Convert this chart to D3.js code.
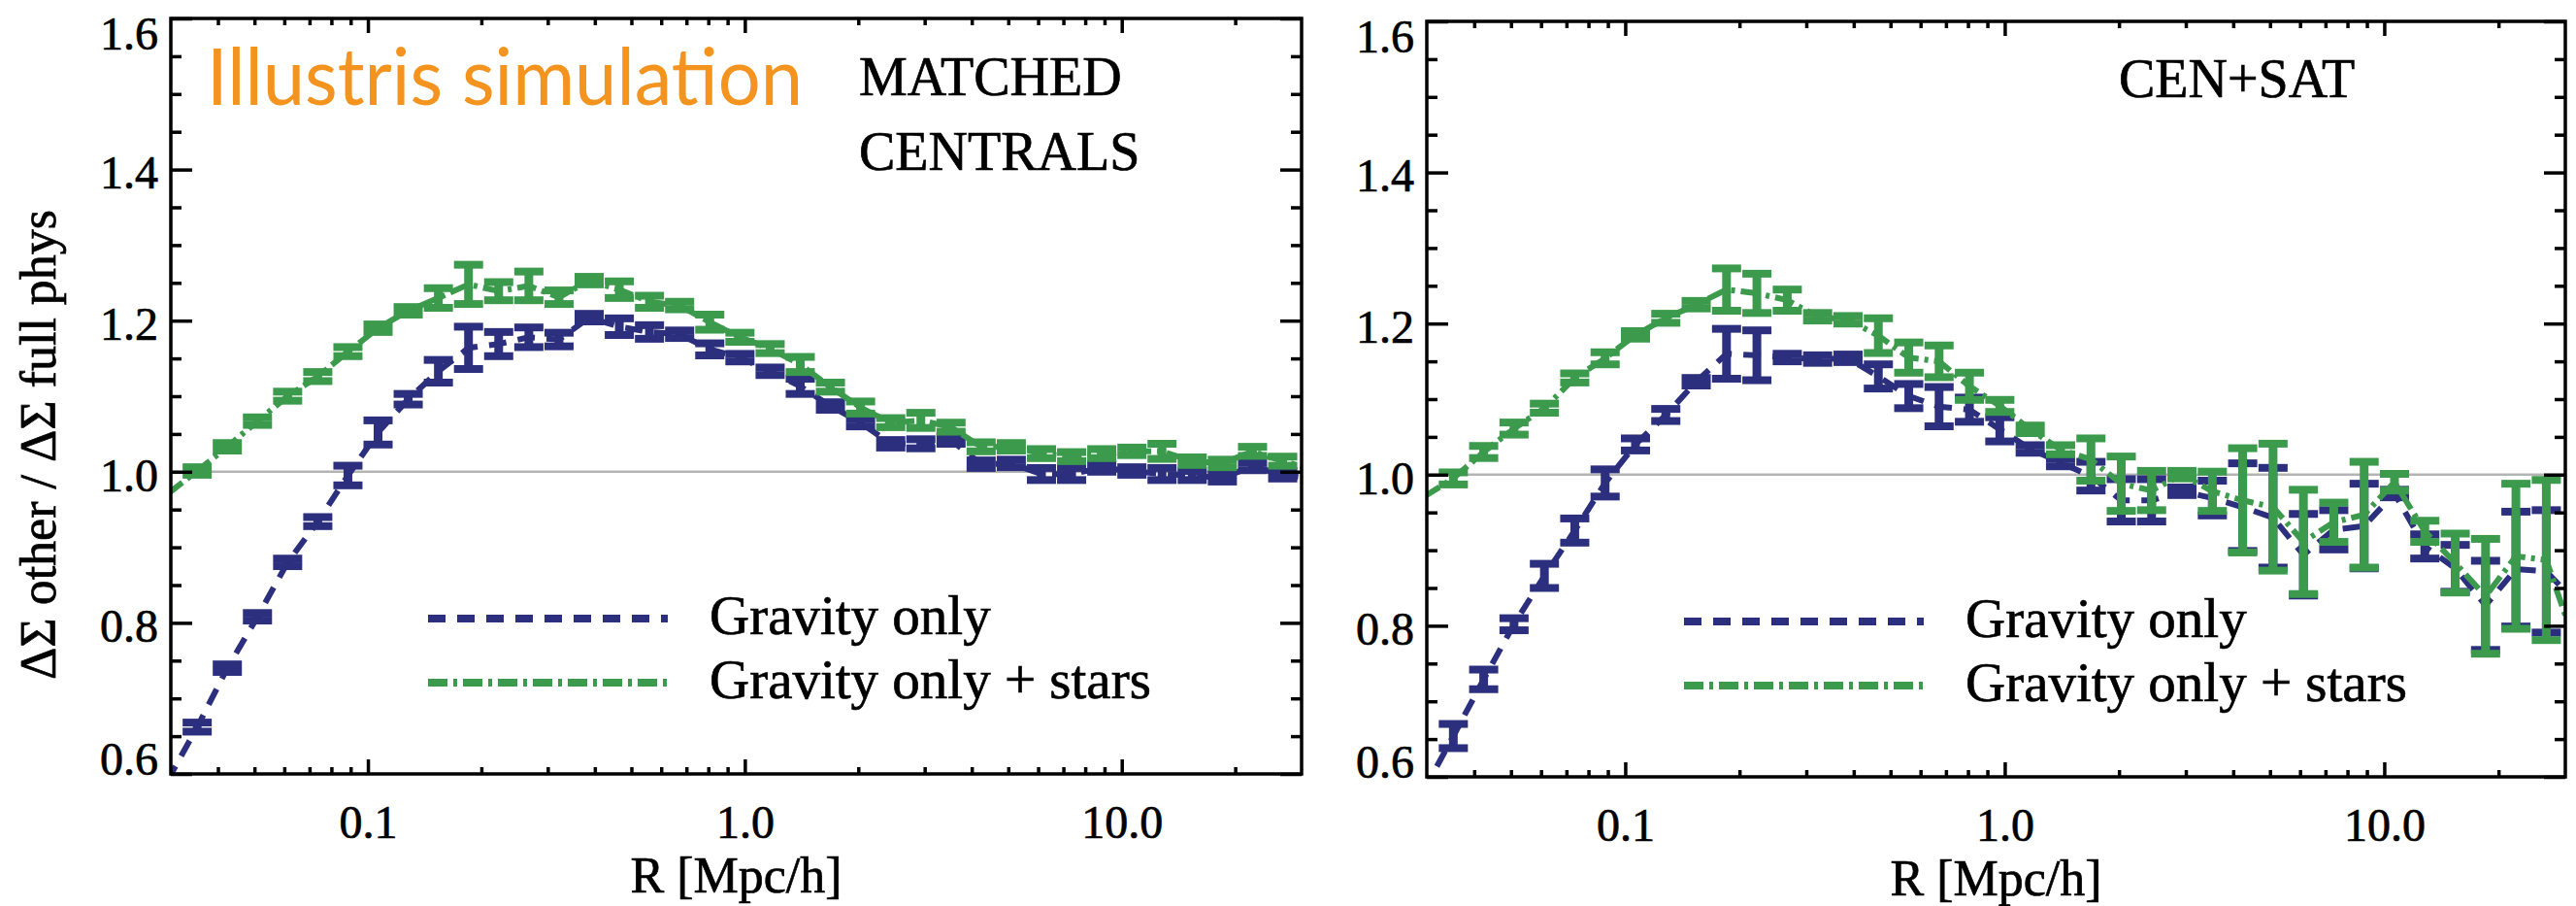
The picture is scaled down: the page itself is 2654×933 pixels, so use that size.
<!DOCTYPE html>
<html>
<head>
<meta charset="utf-8">
<script src="https://cdn.jsdelivr.net/npm/d3@7"></script>
<style>
  body { margin: 0; background: #fff; }
  svg { display: block; }
  text.serif { font-family: "Liberation Serif", "Times New Roman", serif; fill: #000; stroke: #000; stroke-width: 0.7px; }
</style>
</head>
<body>
<svg id="chart" width="2654" height="933"></svg>
<script>
// Projected radius bins [Mpc/h] (log-spaced, 0.08 dex)
const radius = [0.02931, 0.03524, 0.04236, 0.05093, 0.06124, 0.07362, 0.08851, 0.1064, 0.1279, 0.1538,
  0.1849, 0.2223, 0.2673, 0.3214, 0.3864, 0.4645, 0.5585, 0.6714, 0.8072, 0.9705,
  1.167, 1.403, 1.687, 2.028, 2.438, 2.931, 3.524, 4.236, 5.093, 6.124,
  7.362, 8.851, 10.64, 12.79, 15.38, 18.49, 22.23, 26.73, 32.14];

// MATCHED CENTRALS: gravity only
const matchedGrav = [0.59, 0.662, 0.740, 0.808, 0.880, 0.934, 0.995, 1.052, 1.096, 1.133,
  1.164, 1.169, 1.178, 1.175, 1.204, 1.192, 1.185, 1.182, 1.162, 1.151,
  1.133, 1.113, 1.087, 1.065, 1.037, 1.037, 1.042, 1.010, 1.011, 0.997,
  0.997, 1.005, 1.001, 0.997, 0.995, 0.992, 1.007, 0.996, 0.990];
const matchedGravErr = [0, 0.006, 0.005, 0.005, 0.005, 0.006, 0.013, 0.016, 0.007, 0.015,
  0.028, 0.016, 0.013, 0.009, 0.005, 0.011, 0.009, 0.005, 0.008, 0.005,
  0.005, 0.010, 0.005, 0.005, 0.005, 0.006, 0.005, 0.005, 0.005, 0.008,
  0.008, 0.005, 0.005, 0.008, 0.006, 0.005, 0.005, 0.005, 0];

// MATCHED CENTRALS: gravity only + stars
const matchedStars = [0.970, 1.001, 1.033, 1.067, 1.100, 1.126, 1.159, 1.190, 1.213, 1.230,
  1.248, 1.239, 1.246, 1.231, 1.253, 1.241, 1.225, 1.220, 1.198, 1.178,
  1.163, 1.142, 1.112, 1.085, 1.065, 1.068, 1.059, 1.033, 1.033, 1.024,
  1.020, 1.024, 1.027, 1.027, 1.014, 1.011, 1.027, 1.014, 1.003];
const matchedStarsErr = [0, 0.005, 0.005, 0.005, 0.006, 0.006, 0.006, 0.005, 0.005, 0.013,
  0.026, 0.012, 0.019, 0.009, 0.005, 0.011, 0.008, 0.005, 0.010, 0.006,
  0.006, 0.010, 0.006, 0.008, 0.006, 0.010, 0.006, 0.006, 0.005, 0.006,
  0.006, 0.006, 0.005, 0.010, 0.005, 0.005, 0.006, 0.006, 0];

// CEN+SAT: gravity only
const censatGrav = [0.58, 0.654, 0.729, 0.802, 0.866, 0.926, 0.989, 1.040, 1.079, 1.123,
  1.160, 1.158, 1.155, 1.153, 1.154, 1.130, 1.104, 1.090, 1.086, 1.060,
  1.034, 1.016, 0.998, 0.966, 0.966, 0.978, 0.969, 0.957, 0.943, 0.894,
  0.927, 0.932, 0.975, 0.905, 0.876, 0.827, 0.875, 0.872, 0.830];
const censatGravErr = [0, 0.016, 0.013, 0.008, 0.016, 0.016, 0.018, 0.008, 0.008, 0.005,
  0.033, 0.033, 0.005, 0.005, 0.005, 0.016, 0.016, 0.026, 0.016, 0.016,
  0.005, 0.005, 0.019, 0.028, 0.028, 0.005, 0.023, 0.058, 0.066, 0.054,
  0.026, 0.056, 0.005, 0.016, 0.031, 0.059, 0.076, 0.081, 0];

// CEN+SAT: gravity only + stars
const censatStars = [0.970, 0.995, 1.030, 1.061, 1.088, 1.128, 1.154, 1.185, 1.207, 1.225,
  1.245, 1.240, 1.231, 1.209, 1.205, 1.184, 1.155, 1.150, 1.117, 1.091,
  1.060, 1.033, 1.020, 0.988, 0.979, 1.000, 0.978, 0.966, 0.957, 0.911,
  0.937, 0.947, 0.990, 0.925, 0.883, 0.839, 0.892, 0.887, 0.770];
const censatStarsErr = [0, 0.008, 0.008, 0.008, 0.006, 0.006, 0.008, 0.005, 0.006, 0.005,
  0.028, 0.026, 0.014, 0.005, 0.005, 0.023, 0.020, 0.021, 0.018, 0.008,
  0.005, 0.006, 0.028, 0.036, 0.026, 0.005, 0.026, 0.069, 0.084, 0.069,
  0.026, 0.070, 0.011, 0.014, 0.039, 0.076, 0.096, 0.106, 0];

// Axis ticks and labels
const xDomain = [0.03, 30];
const yDomain = [0.6, 1.6];
const xMajorTicks = [0.1, 1, 10];
const xTickLabels = ["0.1", "1.0", "10.0"];
const xMinorTicks = [0.04, 0.05, 0.06, 0.07, 0.08, 0.09, 0.2, 0.3, 0.4, 0.5, 0.6, 0.7, 0.8, 0.9,
  2, 3, 4, 5, 6, 7, 8, 9, 20];
const yMajorTicks = [0.6, 0.8, 1.0, 1.2, 1.4, 1.6];
const yTickLabels = ["0.6", "0.8", "1.0", "1.2", "1.4", "1.6"];
const yMinorTicks = [0.65, 0.7, 0.75, 0.85, 0.9, 0.95, 1.05, 1.1, 1.15, 1.25, 1.3, 1.35, 1.45, 1.5, 1.55];
const seriesNames = ["Gravity only", "Gravity only + stars"];

const BLUE = "#2c2f7d";
const GREEN = "#3c9a4c";
const ORANGE = "#f4931e";

const svg = d3.select("#chart");
svg.append("rect").attr("width", 2654).attr("height", 933).attr("fill", "#fff");

const panels = [
  { id: "matched", left: 176, right: 1341, top: 19, bottom: 797,
    grav: matchedGrav, gravErr: matchedGravErr, stars: matchedStars, starsErr: matchedStarsErr,
    labels: ["MATCHED", "CENTRALS"], labelX: 885, labelY: [98, 175], yTitle: true },
  { id: "censat", left: 1470, right: 2643, top: 22, bottom: 800,
    grav: censatGrav, gravErr: censatGravErr, stars: censatStars, starsErr: censatStarsErr,
    labels: ["CEN+SAT"], labelX: 2183, labelY: [100], yTitle: false }
];

panels.forEach(p => {
  const x = d3.scaleLog().domain(xDomain).range([p.left, p.right]);
  const y = d3.scaleLinear().domain(yDomain).range([p.bottom, p.top]);
  const g = svg.append("g").attr("class", "panel-" + p.id);

  const clipId = "clip-" + p.id;
  g.append("clipPath").attr("id", clipId)
    .append("rect").attr("x", p.left).attr("y", p.top)
    .attr("width", p.right - p.left).attr("height", p.bottom - p.top);

  // reference line at unity
  g.append("line")
    .attr("x1", p.left).attr("x2", p.right)
    .attr("y1", y(1)).attr("y2", y(1))
    .attr("stroke", "#b4b4b4").attr("stroke-width", 2.5);

  const plot = g.append("g").attr("clip-path", `url(#${clipId})`);

  const series = [
    { vals: p.grav, errs: p.gravErr, color: BLUE, dash: "18,12" },
    { vals: p.stars, errs: p.starsErr, color: GREEN, dash: "20,6,4,6" }
  ];

  series.forEach(s => {
    const pts = radius.map((r, i) => ({ r, v: s.vals[i], e: s.errs[i] }));
    const line = d3.line().x(d => x(d.r)).y(d => y(d.v));
    plot.append("path").datum(pts)
      .attr("d", line)
      .attr("fill", "none")
      .attr("stroke", s.color)
      .attr("stroke-width", 6)
      .attr("stroke-dasharray", s.dash);

    const inside = pts.filter(d => d.r >= xDomain[0] && d.r <= xDomain[1]);
    const bars = plot.append("g").selectAll("g").data(inside).join("g");
    bars.append("line")
      .attr("x1", d => x(d.r)).attr("x2", d => x(d.r))
      .attr("y1", d => y(d.v - d.e)).attr("y2", d => y(d.v + d.e))
      .attr("stroke", s.color).attr("stroke-width", 9);
    [-1, 1].forEach(sgn => {
      bars.append("line")
        .attr("x1", d => x(d.r) - 15).attr("x2", d => x(d.r) + 15)
        .attr("y1", d => y(d.v + sgn * d.e)).attr("y2", d => y(d.v + sgn * d.e))
        .attr("stroke", s.color).attr("stroke-width", 8);
    });
  });

  // axes: ticks point inward on all four sides
  const styleAxis = sel => {
    sel.select(".domain").remove();
    sel.selectAll(".tick line").attr("stroke", "#000").attr("stroke-width", 3.5);
  };
  g.append("g").attr("transform", `translate(0,${p.bottom})`)
    .call(d3.axisBottom(x).tickValues(xMinorTicks).tickSize(-7).tickFormat(""))
    .call(styleAxis);
  g.append("g").attr("transform", `translate(0,${p.bottom})`)
    .call(d3.axisBottom(x).tickValues(xMajorTicks).tickSize(-15).tickPadding(32)
      .tickFormat((d, i) => xTickLabels[i]))
    .call(styleAxis)
    .call(a => a.selectAll("text").attr("class", "serif").attr("font-size", 48)
      .attr("font-family", null).attr("fill", null));
  g.append("g").attr("transform", `translate(0,${p.top})`)
    .call(d3.axisTop(x).tickValues(xMinorTicks).tickSize(-7).tickFormat(""))
    .call(styleAxis);
  g.append("g").attr("transform", `translate(0,${p.top})`)
    .call(d3.axisTop(x).tickValues(xMajorTicks).tickSize(-15).tickFormat(""))
    .call(styleAxis);

  g.append("g").attr("transform", `translate(${p.left},0)`)
    .call(d3.axisLeft(y).tickValues(yMinorTicks).tickSize(-11).tickFormat(""))
    .call(styleAxis);
  g.append("g").attr("transform", `translate(${p.left},0)`)
    .call(d3.axisLeft(y).tickValues(yMajorTicks).tickSize(-22).tickFormat(""))
    .call(styleAxis);
  g.append("g").attr("transform", `translate(${p.right},0)`)
    .call(d3.axisRight(y).tickValues(yMinorTicks).tickSize(-11).tickFormat(""))
    .call(styleAxis);
  g.append("g").attr("transform", `translate(${p.right},0)`)
    .call(d3.axisRight(y).tickValues(yMajorTicks).tickSize(-22).tickFormat(""))
    .call(styleAxis);

  // y tick labels, end labels kept inside the frame height
  g.append("g").selectAll("text").data(yMajorTicks).join("text")
    .attr("class", "serif")
    .attr("x", p.left - 13)
    .attr("y", d => Math.min(Math.max(y(d) + 3, p.top + 15), p.bottom - 16))
    .attr("dy", "0.35em")
    .attr("text-anchor", "end")
    .attr("font-size", 48)
    .text((d, i) => yTickLabels[i]);

  // frame
  g.append("rect")
    .attr("x", p.left).attr("y", p.top)
    .attr("width", p.right - p.left).attr("height", p.bottom - p.top)
    .attr("fill", "none").attr("stroke", "#000").attr("stroke-width", 3.5);

  // x axis title
  g.append("text").attr("class", "serif")
    .attr("x", (p.left + p.right) / 2).attr("y", p.bottom + 122)
    .attr("text-anchor", "middle").attr("font-size", 52)
    .text("R [Mpc/h]");

  if (p.yTitle) {
    g.append("text").attr("class", "serif")
      .attr("transform", `translate(57,${(p.top + p.bottom) / 2 + 50}) rotate(-90)`)
      .attr("text-anchor", "middle").attr("font-size", 52)
      .text("ΔΣ other / ΔΣ full phys");
  }

  // sample label
  p.labels.forEach((t, i) => {
    g.append("text").attr("class", "serif")
      .attr("x", p.labelX).attr("y", p.labelY[i])
      .attr("font-size", 56).text(t);
  });

  // legend
  const legend = g.append("g");
  series.forEach((s, i) => {
    const ly = p.top + 618 + i * 66;
    legend.append("line")
      .attr("x1", p.left + 265).attr("x2", p.left + 512)
      .attr("y1", ly).attr("y2", ly)
      .attr("stroke", s.color).attr("stroke-width", 8)
      .attr("stroke-dasharray", s.dash);
    legend.append("text").attr("class", "serif")
      .attr("x", p.left + 555).attr("y", ly + 16)
      .attr("font-size", 57)
      .text(seriesNames[i]);
  });
});

// simulation name
svg.append("text")
  .attr("x", 213).attr("y", 108)
  .style("font-family", "Lato, 'Open Sans', sans-serif")
  .style("fill", ORANGE)
  .attr("font-size", 82)
  .attr("textLength", 614)
  .attr("lengthAdjust", "spacingAndGlyphs")
  .text("Illustris simulation");
</script>
</body>
</html>
